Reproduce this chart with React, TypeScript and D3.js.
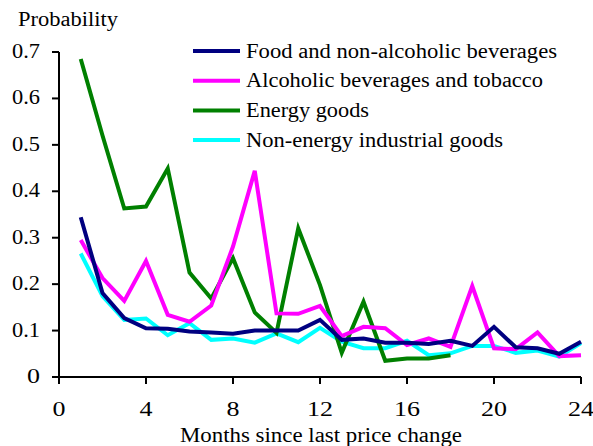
import React from "react";
import * as d3 from "d3";

const months = d3.range(1, 25);
const food = [0.344, 0.181, 0.127, 0.105, 0.104, 0.098, 0.096, 0.093, 0.1, 0.1, 0.1, 0.123, 0.08, 0.083, 0.074, 0.074, 0.071, 0.078, 0.067, 0.108, 0.064, 0.062, 0.05, 0.076];
const alcohol = [0.295, 0.213, 0.164, 0.25, 0.134, 0.119, 0.154, 0.281, 0.444, 0.137, 0.136, 0.153, 0.088, 0.108, 0.105, 0.069, 0.083, 0.065, 0.196, 0.062, 0.06, 0.096, 0.045, 0.047];
const energy = [0.685, 0.52, 0.363, 0.367, 0.449, 0.225, 0.169, 0.256, 0.139, 0.095, 0.32, 0.198, 0.052, 0.162, 0.035, 0.04, 0.04, 0.047];
const nonEnergy = [0.266, 0.174, 0.123, 0.126, 0.09, 0.116, 0.08, 0.083, 0.074, 0.094, 0.075, 0.106, 0.076, 0.062, 0.062, 0.078, 0.047, 0.051, 0.067, 0.067, 0.052, 0.057, 0.044, 0.073];

const seriesNames = ["Food and non-alcoholic beverages", "Alcoholic beverages and tobacco", "Energy goods", "Non-energy industrial goods"];
const seriesColors = ["#000080", "#FF00FF", "#008000", "#00FFFF"];
const seriesValues = [food, alcohol, energy, nonEnergy];
const xTicks = [0, 4, 8, 12, 16, 20, 24];
const yTicks = [0, 0.1, 0.2, 0.3, 0.4, 0.5, 0.6, 0.7];

const FONT = "'Liberation Serif', 'Times New Roman', 'DejaVu Serif', serif";
const legendWidths = [311, 297, 123, 257];

export default function App() {
  const W = 593, H = 446;
  const x = d3.scaleLinear().domain([0, 24]).range([59, 581]);
  const y = d3.scaleLinear().domain([0, 0.7]).range([377, 52]);
  const line = d3.line<number>().x((_, i) => x(months[i])).y((d) => y(d));
  const order = [3, 2, 1, 0];
  const txt = { fontFamily: FONT, fontSize: 20, fill: "#000" } as React.CSSProperties;
  return (
    <svg width={W} height={H} style={{ position: "absolute", left: 0, top: 0, background: "#fff" }}>
      <rect width={W} height={H} fill="#fff" />
      {order.map((k) => (
        <path key={k} d={line(seriesValues[k]) || ""} fill="none" stroke={seriesColors[k]} strokeWidth={4} strokeLinejoin="miter" />
      ))}
      <line x1={59} x2={59} y1={y(0.7)} y2={y(0) + 1} stroke="#000" strokeWidth={2} />
      <line x1={58} x2={581} y1={y(0)} y2={y(0)} stroke="#000" strokeWidth={2} />
      {yTicks.map((t) => (
        <g key={t}>
          <line x1={52} x2={59} y1={y(t)} y2={y(t)} stroke="#000" strokeWidth={2} />
          <text x={40} y={y(t) + 6} textAnchor="end" style={txt} textLength={t === 0 ? 13 : 28} lengthAdjust="spacingAndGlyphs">
            {t === 0 ? "0" : d3.format(".1f")(t)}
          </text>
        </g>
      ))}
      {xTicks.map((t) => (
        <g key={t}>
          <line x1={x(t)} x2={x(t)} y1={y(0)} y2={y(0) + 7} stroke="#000" strokeWidth={2} />
          <text x={x(t)} y={416} textAnchor="middle" style={txt} textLength={t < 10 ? 13 : 26} lengthAdjust="spacingAndGlyphs">
            {t}
          </text>
        </g>
      ))}
      <text x={321} y={442} textAnchor="middle" style={txt} textLength={282} lengthAdjust="spacingAndGlyphs">
        Months since last price change
      </text>
      <text x={18} y={26} style={txt} textLength={100} lengthAdjust="spacingAndGlyphs">
        Probability
      </text>
      {seriesNames.map((n, i) => (
        <g key={n}>
          <line x1={193} x2={240} y1={51 + i * 29.7} y2={51 + i * 29.7} stroke={seriesColors[i]} strokeWidth={4} />
          <text x={246} y={51 + i * 29.7 + 6.5} style={txt} textLength={legendWidths[i]} lengthAdjust="spacingAndGlyphs">
            {n}
          </text>
        </g>
      ))}
    </svg>
  );
}
